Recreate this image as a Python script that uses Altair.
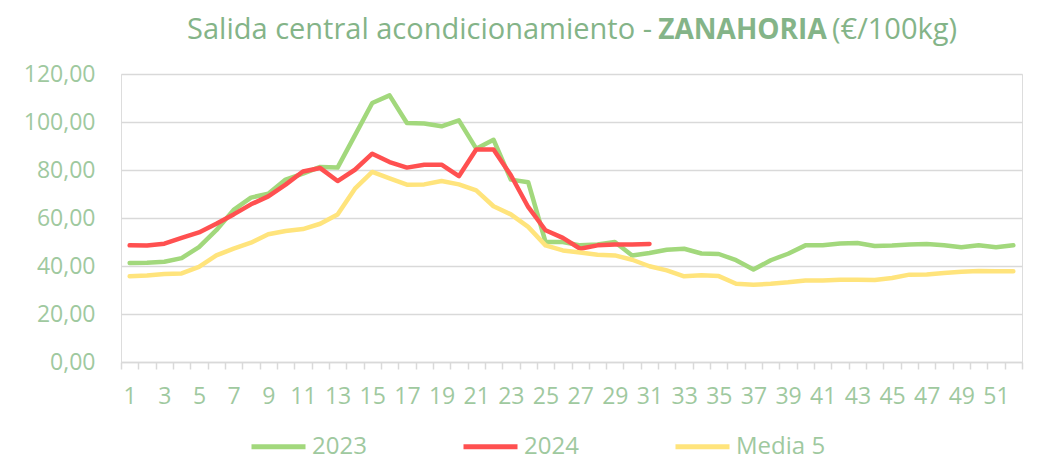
import altair as alt
import pandas as pd

weeks = list(range(1, 53))

serie_2023 = [41.3, 41.4, 41.8, 43.3, 47.9, 54.9, 63.4, 68.5, 70.1, 76.0,
              78.5, 81.3, 81.0, 94.4, 107.9, 111.1, 99.6, 99.4, 98.2, 100.7,
              88.9, 92.6, 76.0, 74.9, 50.0, 50.0, 48.6, 49.0, 50.0, 44.4,
              45.4, 46.8, 47.2, 45.2, 45.0, 42.4, 38.5, 42.4, 45.1, 48.6,
              48.6, 49.4, 49.6, 48.3, 48.5, 49.0, 49.2, 48.6, 47.8, 48.6,
              47.8, 48.6]

serie_2024 = [48.6, 48.5, 49.3, 51.7, 54.0, 57.6, 61.5, 65.7, 69.0, 73.9,
              79.4, 80.8, 75.4, 80.1, 86.8, 83.3, 81.0, 82.2, 82.2, 77.4,
              88.5, 88.5, 77.8, 64.6, 54.9, 51.7, 47.2, 48.6, 49.0, 49.0,
              49.2]

media_5 = [35.7, 36.0, 36.7, 36.9, 39.6, 44.4, 47.2, 49.7, 53.2, 54.6,
           55.4, 57.6, 61.5, 72.2, 79.2, 76.5, 73.9, 74.0, 75.4, 74.0,
           71.5, 64.9, 61.5, 56.3, 48.6, 46.5, 45.6, 44.7, 44.4, 42.6,
           39.9, 38.2, 35.7, 36.1, 35.8, 32.6, 32.2, 32.6, 33.2, 34.0,
           34.0, 34.3, 34.3, 34.2, 35.0, 36.4, 36.5, 37.1, 37.6, 37.9,
           37.8, 37.8]

series_names = ["2023", "2024", "Media 5"]
series_colors = ["#A2D87C", "#FF5050", "#FFE47C"]

title_parts = ["Salida central acondicionamiento -", "ZANAHORIA", "(€/100kg)"]

rows = []
for name, vals in zip(series_names, [serie_2023, serie_2024, media_5]):
    for w, v in zip(weeks, vals):
        rows.append({"semana": w, "valor": v, "serie": name,
                     "orden": series_names.index(name)})
df = pd.DataFrame(rows)

FONT = "Open Sans"
LABEL_COLOR = "#9FC99F"
TITLE_COLOR = "#84B488"
GRID = "#D9D9D9"

tick_positions = [w - 0.5 for w in weeks] + [52.5]

lines = alt.Chart(df).mark_line(strokeWidth=4.5, strokeCap="round", strokeJoin="round").encode(
    x=alt.X("semana:Q",
            scale=alt.Scale(domain=[0.5, 52.5], nice=False, zero=False),
            axis=alt.Axis(values=tick_positions, title=None,
                          labelExpr="(datum.value < 52 && (datum.value + 0.5) % 2 == 1) ? toString(datum.value + 0.5) : ''",
                          labelOffset=8.67, labelPadding=16, tickSize=7,
                          tickColor=GRID, tickWidth=1.5, domainColor=GRID,
                          domainWidth=1.5, grid=False, labelFont=FONT,
                          labelFontSize=23, labelColor=LABEL_COLOR,
                          labelFlush=False, labelOverlap=False)),
    y=alt.Y("valor:Q",
            scale=alt.Scale(domain=[0, 120], nice=False),
            axis=alt.Axis(values=[0, 20, 40, 60, 80, 100, 120], title=None,
                          labelExpr="replace(format(datum.value, '.2f'), '.', ',')",
                          ticks=False, tickSize=0, domain=False, grid=True,
                          gridColor=GRID, gridWidth=1.5, labelPadding=26,
                          labelFont=FONT, labelFontSize=23,
                          labelColor=LABEL_COLOR)),
    color=alt.Color("serie:N",
                    scale=alt.Scale(domain=series_names, range=series_colors),
                    legend=alt.Legend(title=None, orient="none", direction="horizontal",
                                      legendX=128, legendY=343,
                                      symbolType="stroke", symbolSize=2916,
                                      symbolStrokeWidth=5, labelOffset=4,
                                      gridAlign="all", columnPadding=51,
                                      labelFont=FONT, labelFontSize=24,
                                      labelColor=LABEL_COLOR)),
    detail="serie:N",
    order=alt.Order("orden:Q"),
)

title_df = pd.DataFrame({"a": [title_parts[0]], "b": [title_parts[1]], "c": [title_parts[2]]})

t1 = alt.Chart(title_df).mark_text(align="right", baseline="alphabetic", font=FONT,
                                   fontSize=29, color=TITLE_COLOR).encode(
    x=alt.value(531), y=alt.value(-35), text="a:N")
t2 = alt.Chart(title_df).mark_text(align="center", baseline="alphabetic", font=FONT,
                                   fontSize=28, fontWeight="bold", color=TITLE_COLOR).encode(
    x=alt.value(621.5), y=alt.value(-35), text="b:N")
t3 = alt.Chart(title_df).mark_text(align="left", baseline="alphabetic", font=FONT,
                                   fontSize=29, color=TITLE_COLOR).encode(
    x=alt.value(711), y=alt.value(-35), text="c:N")

chart = alt.layer(lines, t1, t2, t3).properties(
    width=901, height=288,
    autosize=alt.AutoSizeParams(type="none"),
    padding={"left": 113, "top": 66, "right": 13, "bottom": 101},
).configure_view(stroke=None).configure(background="white")

chart.save("out.html", embed_options={"renderer": "svg", "actions": False})
